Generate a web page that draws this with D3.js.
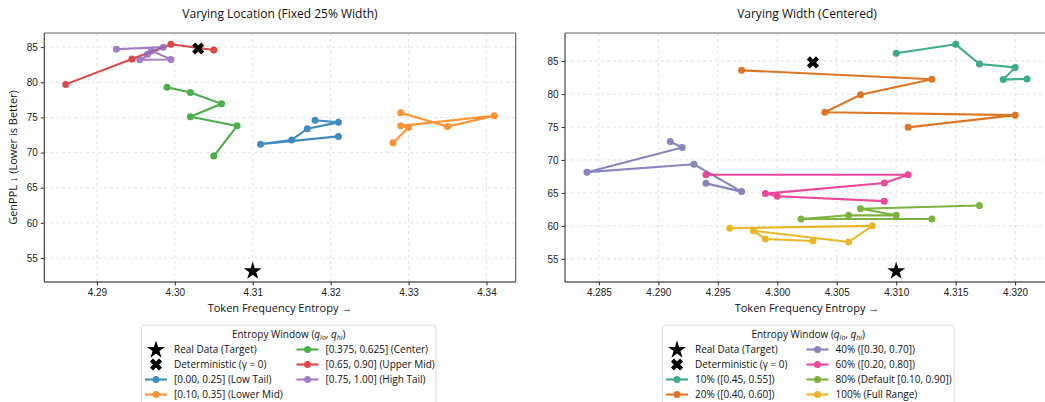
<!DOCTYPE html>
<html>
<head>
<meta charset="utf-8">
<script src="https://cdn.jsdelivr.net/npm/d3@7"></script>
<style>
body { margin: 0; background: #fff; }
svg { font-family: 'Open Sans', sans-serif; }
.tick text { font-size: 10px; fill: #222; }
.grid line { stroke: #d9d9d9; stroke-dasharray: 3,3; stroke-width: 0.8; }
</style>
</head>
<body>
<svg width="1045" height="402"></svg>
<script>
// ---- data ----
var realData = [4.310, 53.2];
var deterministic = [4.303, 84.8];

// left panel: fixed 25% width, varying location
var locLabels = ['[0.00, 0.25] (Low Tail)', '[0.10, 0.35] (Lower Mid)', '[0.375, 0.625] (Center)',
    '[0.65, 0.90] (Upper Mid)', '[0.75, 1.00] (High Tail)'];
var locColors = ['#1f77b4', '#ff7f0e', '#2ca02c', '#d62728', '#9467bd'];
var locLowTail = [[4.321, 72.3], [4.311, 71.2], [4.315, 71.8], [4.317, 73.4], [4.321, 74.3], [4.318, 74.6]];
var locLowerMid = [[4.329, 75.65], [4.335, 73.7], [4.341, 75.25], [4.329, 73.8], [4.330, 73.55], [4.328, 71.4]];
var locCenter = [[4.299, 79.3], [4.302, 78.55], [4.306, 76.95], [4.302, 75.1], [4.308, 73.8], [4.305, 69.5]];
var locUpperMid = [[4.286, 79.7], [4.2945, 83.3], [4.2995, 85.4], [4.305, 84.6]];
var locHighTail = [[4.2925, 84.7], [4.2985, 85.0], [4.2955, 83.2], [4.2995, 83.25], [4.297, 84.5], [4.2965, 84.0]];

// right panel: centered window, varying width
var widLabels = ['10% ([0.45, 0.55])', '20% ([0.40, 0.60])', '40% ([0.30, 0.70])',
    '60% ([0.20, 0.80])', '80% (Default [0.10, 0.90])', '100% (Full Range)'];
var widColors = ['#1b9e77', '#d95f02', '#7570b3', '#e7298a', '#66a61e', '#e6ab02'];
var wid10 = [[4.310, 86.2], [4.315, 87.55], [4.317, 84.55], [4.320, 84.05], [4.319, 82.2], [4.321, 82.3]];
var wid20 = [[4.297, 83.6], [4.313, 82.25], [4.307, 79.9], [4.304, 77.25], [4.320, 76.8], [4.311, 74.95]];
var wid40 = [[4.291, 72.8], [4.292, 71.9], [4.284, 68.15], [4.293, 69.35], [4.297, 65.2], [4.294, 66.45]];
var wid60 = [[4.294, 67.75], [4.311, 67.75], [4.309, 66.5], [4.299, 64.9], [4.300, 64.5], [4.309, 63.75]];
var wid80 = [[4.317, 63.1], [4.307, 62.6], [4.310, 61.6], [4.306, 61.6], [4.302, 61.05], [4.313, 61.05]];
var wid100 = [[4.296, 59.65], [4.308, 60.0], [4.306, 57.55], [4.298, 59.25], [4.299, 58.0], [4.303, 57.7]];

var locXTicks = [4.29, 4.30, 4.31, 4.32, 4.33, 4.34];
var widXTicks = [4.285, 4.290, 4.295, 4.300, 4.305, 4.310, 4.315, 4.320];
var yTicks = [55, 60, 65, 70, 75, 80, 85];

var svg = d3.select('svg');

// matplotlib style 5% margins
function padded(vals) {
    var ext = d3.extent(vals);
    var r = ext[1] - ext[0];
    return [ext[0] - 0.05 * r, ext[1] + 0.05 * r];
}

var starSize = 100, crossSize = 92;

function drawPanel(opt) {
    var all = opt.series.reduce(function(a, s) { return a.concat(s); }, [realData, deterministic]);
    var x = d3.scaleLinear()
        .domain(padded(all.map(function(d) { return d[0]; })))
        .range([opt.left, opt.right]);
    var y = d3.scaleLinear()
        .domain(padded(all.map(function(d) { return d[1]; })))
        .range([282, 33]);

    var g = svg.append('g');

    // grid
    g.append('g').attr('class', 'grid')
        .selectAll('line').data(opt.xTicks).enter().append('line')
        .attr('x1', function(d) { return x(d); }).attr('x2', function(d) { return x(d); })
        .attr('y1', 33).attr('y2', 282);
    g.append('g').attr('class', 'grid')
        .selectAll('line').data(yTicks).enter().append('line')
        .attr('x1', opt.left).attr('x2', opt.right)
        .attr('y1', function(d) { return y(d); }).attr('y2', function(d) { return y(d); });

    // series
    var line = d3.line().x(function(d) { return x(d[0]); }).y(function(d) { return y(d[1]); });
    opt.series.forEach(function(s, i) {
        var sg = g.append('g').attr('opacity', 0.85);
        sg.append('path')
            .attr('d', line(s))
            .attr('fill', 'none')
            .attr('stroke', opt.colors[i])
            .attr('stroke-width', 2.1);
        sg.selectAll('circle').data(s).enter().append('circle')
            .attr('cx', function(d) { return x(d[0]); })
            .attr('cy', function(d) { return y(d[1]); })
            .attr('r', 3.5)
            .attr('fill', opt.colors[i]);
    });

    // reference markers
    g.append('path')
        .attr('d', d3.symbol(d3.symbolStar, starSize)())
        .attr('transform', 'translate(' + [x(realData[0]), y(realData[1]) + 0.5] + ')')
        .attr('fill', '#000');
    g.append('path')
        .attr('d', d3.symbol(d3.symbolCross, crossSize)())
        .attr('transform', 'translate(' + [x(deterministic[0]), y(deterministic[1])] + ') rotate(45)')
        .attr('fill', '#000');

    // axes
    g.append('g')
        .attr('transform', 'translate(0,282)')
        .call(d3.axisBottom(x).tickValues(opt.xTicks).tickFormat(d3.format(opt.xFormat)).tickSize(3.5).tickPadding(3))
        .call(function(a) { a.select('.domain').remove(); });
    g.append('g')
        .attr('transform', 'translate(' + opt.left + ',0)')
        .call(d3.axisLeft(y).tickValues(yTicks).tickSize(3.5).tickPadding(3))
        .call(function(a) { a.select('.domain').remove(); });
    g.selectAll('.tick line').attr('stroke', '#333');

    // spines
    g.append('line').attr('x1', opt.left).attr('x2', opt.right).attr('y1', 33).attr('y2', 33)
        .attr('stroke', '#666').attr('stroke-width', 1.2);
    g.append('line').attr('x1', opt.right).attr('x2', opt.right).attr('y1', 33).attr('y2', 282)
        .attr('stroke', '#666').attr('stroke-width', 1.2);
    g.append('line').attr('x1', opt.left).attr('x2', opt.left).attr('y1', 33).attr('y2', 282)
        .attr('stroke', '#444').attr('stroke-width', 1.2);
    g.append('line').attr('x1', opt.left).attr('x2', opt.right).attr('y1', 282).attr('y2', 282)
        .attr('stroke', '#111').attr('stroke-width', 1.2);

    var cx = (opt.left + opt.right) / 2;
    g.append('text').attr('x', cx).attr('y', 18).attr('text-anchor', 'middle')
        .style('font-size', '12px').attr('fill', '#111').text(opt.title);
    g.append('text').attr('x', cx).attr('y', 312).attr('text-anchor', 'middle')
        .style('font-size', '11px').attr('fill', '#111').text('Token Frequency Entropy \u2192');
    if (opt.ylabel) {
        g.append('text')
            .attr('transform', 'translate(17,157.5) rotate(-90)')
            .attr('text-anchor', 'middle')
            .style('font-size', '11px').attr('fill', '#111').text(opt.ylabel);
    }

    // legend
    var lg = g.append('g').attr('transform', 'translate(' + opt.legend.x + ',325)');
    lg.append('rect')
        .attr('width', opt.legend.w).attr('height', 90).attr('rx', 3)
        .attr('fill', '#fff').attr('stroke', '#dcdcdc');
    var lt = lg.append('text').attr('x', opt.legend.w / 2).attr('y', 13)
        .attr('text-anchor', 'middle').style('font-size', '10px').attr('fill', '#111');
    lt.append('tspan').text('Entropy Window (');
    lt.append('tspan').style('font-style', 'italic').text('q');
    lt.append('tspan').style('font-style', 'italic').style('font-size', '7px').attr('dy', 2).text('lo');
    lt.append('tspan').attr('dy', -2).text(', ');
    lt.append('tspan').style('font-style', 'italic').text('q');
    lt.append('tspan').style('font-style', 'italic').style('font-size', '7px').attr('dy', 2).text('hi');
    lt.append('tspan').attr('dy', -2).text(')');

    var items = [{type: 'star', label: 'Real Data (Target)'},
                 {type: 'x', label: 'Deterministic (\u03b3 = 0)'}];
    opt.labels.forEach(function(l, i) { items.push({type: 'line', label: l, color: opt.colors[i]}); });

    items.forEach(function(it, i) {
        var col = i < opt.legend.perCol ? 0 : 1;
        var row = col === 0 ? i : i - opt.legend.perCol;
        var hx = opt.legend.colX[col];
        var ry = 24.5 + row * 15;
        var ig = lg.append('g').attr('transform', 'translate(' + [hx, ry] + ')');
        if (it.type === 'star') {
            ig.append('path').attr('d', d3.symbol(d3.symbolStar, starSize)())
                .attr('transform', 'translate(11,0.5)').attr('fill', '#000');
        } else if (it.type === 'x') {
            ig.append('path').attr('d', d3.symbol(d3.symbolCross, crossSize)())
                .attr('transform', 'translate(11,0) rotate(45)').attr('fill', '#000');
        } else {
            var hg = ig.append('g').attr('opacity', 0.85);
            hg.append('line').attr('x1', 0).attr('x2', 22).attr('stroke', it.color).attr('stroke-width', 2.1);
            hg.append('circle').attr('cx', 11).attr('r', 3.5).attr('fill', it.color);
        }
        ig.append('text').attr('x', 29).attr('y', 3.6)
            .style('font-size', '10px').attr('fill', '#111').text(it.label);
    });
}

drawPanel({
    left: 44.3, right: 515.7,
    title: 'Varying Location (Fixed 25% Width)',
    ylabel: 'GenPPL \u2193 (Lower is Better)',
    series: [locLowTail, locLowerMid, locCenter, locUpperMid, locHighTail],
    colors: locColors, labels: locLabels,
    xTicks: locXTicks, xFormat: '.2f',
    legend: {x: 141.5, w: 294.5, perCol: 4, colX: [3.5, 155]}
});

drawPanel({
    left: 565, right: 1049,
    title: 'Varying Width (Centered)',
    ylabel: null,
    series: [wid10, wid20, wid40, wid60, wid80, wid100],
    colors: widColors, labels: widLabels,
    xTicks: widXTicks, xFormat: '.3f',
    legend: {x: 662.5, w: 291.5, perCol: 4, colX: [3.5, 144]}
});
</script>
</body>
</html>
